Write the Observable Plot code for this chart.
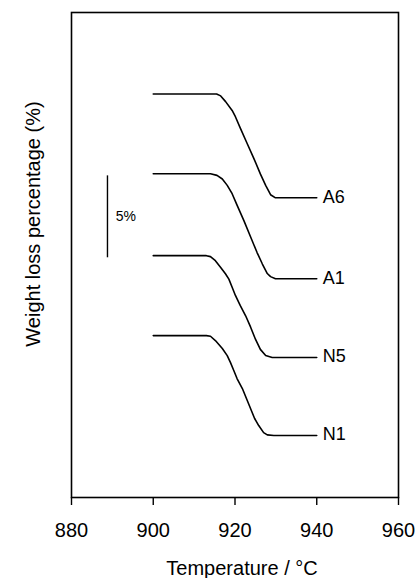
<!DOCTYPE html>
<html>
<head>
<meta charset="utf-8">
<script src="https://cdn.jsdelivr.net/npm/d3@7"></script>
<script src="https://cdn.jsdelivr.net/npm/@observablehq/plot@0.6"></script>
<style>
  html, body { margin: 0; padding: 0; background: #fff; }
  #chart svg { display: block; }
</style>
</head>
<body>
<div id="chart"></div>
<script>
// ---- data ----
const seriesNames = ["A6", "A1", "N5", "N1"];

const tempA6   = [900, 915.5, 916.5, 917.7, 919.3, 920.1, 921.3, 923.0, 924.6, 926.2, 927.5, 928.7, 929.9, 940];
const weightA6 = [24.63, 24.63, 24.51, 24.16, 23.62, 23.24, 22.54, 21.59, 20.70, 19.75, 19.05, 18.48, 18.29, 18.29];

const tempA1   = [900, 914.0, 915.6, 916.9, 918.1, 919.3, 920.5, 922.2, 923.8, 925.4, 926.7, 927.9, 928.7, 929.9, 940];
const weightA1 = [19.76, 19.76, 19.66, 19.44, 19.05, 18.54, 17.84, 16.88, 15.91, 14.95, 14.25, 13.67, 13.48, 13.35, 13.35];

const tempN5   = [900, 913.0, 914.0, 915.2, 916.5, 917.7, 918.5, 919.3, 920.1, 921.3, 922.6, 923.8, 925.0, 926.2, 927.5, 929.1, 940];
const weightN5 = [14.76, 14.76, 14.70, 14.45, 14.04, 13.64, 13.33, 12.83, 12.33, 11.71, 11.09, 10.41, 9.66, 9.04, 8.66, 8.54, 8.54];

const tempN1   = [900, 913.0, 914.0, 915.2, 916.9, 918.1, 918.9, 919.7, 920.5, 921.8, 923.0, 923.8, 924.8, 925.8, 927.0, 927.9, 929.5, 940];
const weightN1 = [9.88, 9.88, 9.84, 9.58, 9.09, 8.66, 8.23, 7.75, 7.26, 6.65, 5.92, 5.43, 4.82, 4.39, 3.96, 3.82, 3.78, 3.78];

const xTicks = [880, 900, 920, 940, 960];
const xDomain = [880, 960];
const yDomain = [0, 29.6];

// scale bar (5 %)
const scaleBarTemp = 888.8;
const scaleBarFrom = 14.63;
const scaleBarTo = 19.63;
const scaleBarLabel = "5%";
const scaleBarLabelTemp = 890.8;
const scaleBarLabelWeight = 17.14;

const xLabel = "Temperature / °C";
const yLabel = "Weight loss percentage (%)";

// ---- build table ----
const temps = {A6: tempA6, A1: tempA1, N5: tempN5, N1: tempN1};
const weights = {A6: weightA6, A1: weightA1, N5: weightN5, N1: weightN1};
const rows = seriesNames.flatMap(s => temps[s].map((t, i) => ({series: s, t, w: weights[s][i]})));
const ends = seriesNames.map(s => ({series: s, t: temps[s][temps[s].length - 1], w: weights[s][weights[s].length - 1]}));

const font = "'Liberation Sans', Arial, Helvetica, sans-serif";

const chart = Plot.plot({
  width: 415,
  height: 578,
  marginLeft: 71,
  marginRight: 17,
  marginTop: 12,
  marginBottom: 81,
  style: {fontFamily: font, color: "#000", background: "#fff", overflow: "visible"},
  x: {domain: xDomain},
  y: {domain: yDomain},
  marks: [
    Plot.frame({stroke: "#000", strokeWidth: 1.6}),
    Plot.axisX({ticks: xTicks, tickSize: 8, tickPadding: 17, fontSize: 20, label: null, tickFormat: d => String(d), stroke: "#000", strokeWidth: 1.4}),
    Plot.axisY({ticks: [], label: null}),
    Plot.line(rows, {x: "t", y: "w", z: "series", stroke: "#000", strokeWidth: 1.6, curve: "linear"}),
    Plot.text(ends, {x: "t", y: "w", text: "series", dx: 6, dy: -1, textAnchor: "start", fontSize: 18, fill: "#000"}),
    Plot.ruleX([scaleBarTemp], {y1: scaleBarFrom, y2: scaleBarTo, stroke: "#000", strokeWidth: 1.4}),
    Plot.text([scaleBarLabel], {x: () => scaleBarLabelTemp, y: () => scaleBarLabelWeight, textAnchor: "start", fontSize: 14, fill: "#000"}),
    Plot.text([xLabel], {frameAnchor: "bottom", textAnchor: "middle", dx: 7, dy: 77, lineAnchor: "bottom", fontSize: 20, fill: "#000"}),
    Plot.text([yLabel], {frameAnchor: "left", textAnchor: "middle", rotate: -90, dx: -31.5, dy: -31, lineAnchor: "bottom", fontSize: 20, fill: "#000"})
  ]
});

document.getElementById("chart").appendChild(chart);
</script>
</body>
</html>
